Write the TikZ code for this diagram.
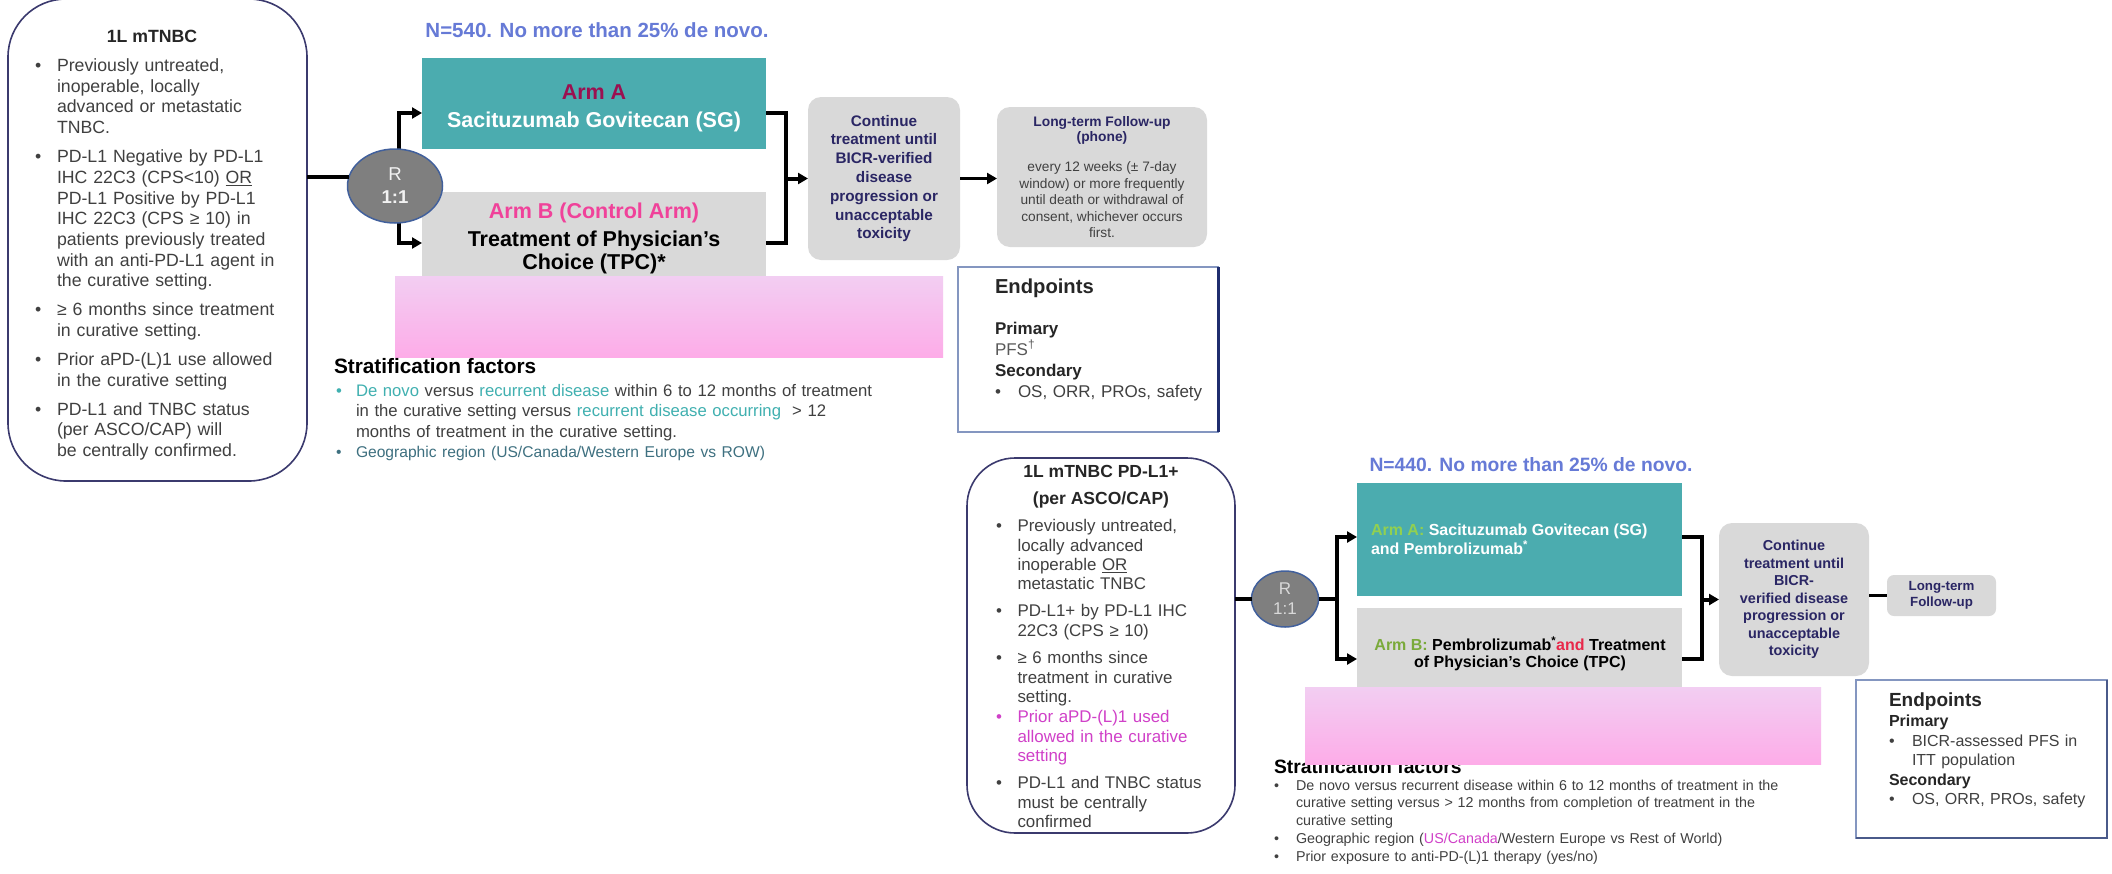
\documentclass[tikz,border=0pt]{standalone}
\usepackage{fontspec}
\setmainfont{Liberation Sans}
\usetikzlibrary{arrows.meta,shapes.geometric}

\definecolor{critline}{RGB}{59,58,110}
\definecolor{txtgray}{RGB}{64,64,64}
\definecolor{armteal}{RGB}{75,172,175}
\definecolor{boxgray}{RGB}{217,217,217}
\definecolor{navytxt}{RGB}{42,38,100}
\definecolor{rfill}{RGB}{127,127,127}
\definecolor{rline}{RGB}{65,96,156}
\definecolor{rtxt}{RGB}{242,242,242}
\definecolor{pinktop}{RGB}{242,206,242}
\definecolor{pinkbot}{RGB}{253,172,232}
\definecolor{nblue}{RGB}{102,122,214}
\definecolor{armAred}{RGB}{155,16,80}
\definecolor{armBpink}{RGB}{240,66,154}
\definecolor{stteal}{RGB}{64,176,176}
\definecolor{geoteal}{RGB}{62,112,128}
\definecolor{epline}{RGB}{132,150,192}
\definecolor{epnavy}{RGB}{31,45,110}
\definecolor{epdark}{RGB}{74,90,138}
\definecolor{limegreen}{RGB}{146,208,80}
\definecolor{olivegreen}{RGB}{122,170,58}
\definecolor{andred}{RGB}{232,40,74}
\definecolor{magtxt}{RGB}{208,64,200}
\definecolor{pfsgray}{RGB}{89,89,89}

\newcommand{\setfs}[2]{\fontsize{#1}{#2}\selectfont}
% bullet line with hanging indent: [bullet colour]{indent}{text}
\newcommand{\bul}[3][.]{\hangindent=#2\hangafter=1\noindent\makebox[#2][l]{\textcolor{#1}{\textbullet}}#3\par}
\newcommand{\bgap}[1]{\par\vspace{#1}}

\begin{document}
\begin{tikzpicture}[x=1pt,y=1pt,yscale=-1,xscale=1,
	tri/.tip={Triangle[length=10pt,width=11pt]},
	every node/.style={inner sep=0pt,outer sep=0pt},
	critbox/.style={draw=critline,line width=1.6pt,fill=white},
	txtblock/.style={anchor=base west,align=left,text=txtgray},
	tealbox/.style={fill=armteal},
	greybox/.style={fill=boxgray},
	contbox/.style={fill=boxgray,rounded corners=13pt,align=center,text=navytxt,font=\bfseries\setfs{15.3}{18.8}},
	rnode/.style={ellipse,fill=rfill,draw=rline,line width=1.5pt,align=center,text=rtxt},
	pinkbar/.style={top color=pinktop,bottom color=pinkbot},
	link/.style={line width=4pt},
	flow/.style={line width=4pt,-tri},
	biflow/.style={line width=4pt,tri-tri},
	nhead/.style={anchor=base,text=nblue,font=\bfseries\setfs{20.5}{24}},
	epbox/.style={draw=epline,line width=1.3pt,fill=white},
	strat/.style={anchor=base west,text=black,font=\bfseries\setfs{20.8}{24}}
	]
	\useasboundingbox[fill=white] (0,0) rectangle (2112,873);
	
	%%%%% upper trial
	% eligibility box
	\node[critbox,rounded corners=58pt,minimum width=299pt,minimum height=482pt] (incA) at (157.5,240) {};
	\node[anchor=base,text=black!85,font=\bfseries\setfs{17.7}{21}] (incAttl) at (152,42.4) {1L mTNBC};
	\node[txtblock,text width=272pt,font=\setfs{17.7}{20.7}] (incAtxt) at (35,71.5) {%
		\bul{22pt}{Previously untreated,\newline inoperable, locally\newline advanced or metastatic\newline TNBC.}%
		\bgap{8.3pt}\bul{22pt}{PD-L1 Negative by PD-L1\newline IHC 22C3 (CPS<10) \underline{OR}\newline PD-L1 Positive by PD-L1\newline IHC 22C3 (CPS ≥ 10) in\newline patients previously treated\newline with an anti-PD-L1 agent in\newline the curative setting.}%
		\bgap{8.3pt}\bul{22pt}{≥ 6 months since treatment\newline in curative setting.}%
		\bgap{8.3pt}\bul{22pt}{Prior aPD-(L)1 use allowed\newline in the curative setting}%
		\bgap{8.3pt}\bul{22pt}{PD-L1 and TNBC status\newline (per ASCO/CAP) will\newline be centrally confirmed.}};
	
	% title
	\node[nhead] (nA) at (597,37.4) {N=540. No more than 25\% de novo.};
	
	% arms
	\node[tealbox,minimum width=344pt,minimum height=91pt] (armA) at (594,103.5) {};
	\node[anchor=base,align=center,font=\bfseries\setfs{21.5}{27.5}] (armAtxt) at (594,127.2) {\textcolor{armAred}{Arm A}\\\textcolor{white}{Sacituzumab Govitecan (SG)}};
	\node[greybox,minimum width=344pt,minimum height=108pt] (armB) at (594,246) {};
	\node[anchor=base,align=center,font=\bfseries\setfs{21.5}{23}] (armBtxt) at (594,269) {\textcolor{armBpink}{Arm B (Control Arm)}\\[5pt]Treatment of Physician’s\\Choice (TPC)*};
	\node[pinkbar,minimum width=548pt,minimum height=81pt] (pinkA) at (669,316.5) {};
	
	% randomisation
	\coordinate (splA) at (399,113);
	\coordinate (splB) at (399,243);
	\draw[biflow] (splA -| armA.west) -- (splA) -- (splB) -- (splB -| armB.west);
	\node[rnode,minimum width=95pt,minimum height=74pt,font=\setfs{18.6}{23}] (rA) at (395,186) {R\\\textbf{1:1}};
	\draw[link] (incA.east |- rA.169) -- (rA.169);
	
	% merge and follow-up
	\coordinate (mrgA) at (786,113);
	\coordinate (mrgB) at (786,243);
	\draw[link] (mrgA -| armA.east) -- (mrgA) -- (mrgB) -- (mrgB -| armB.east);
	\node[contbox,minimum width=152pt,minimum height=163pt] (contA) at (884,178.5) {Continue\\treatment until\\BICR-verified\\disease\\progression or\\unacceptable\\toxicity};
	\draw[flow] (mrgA |- contA.west) -- (contA.west);
	\node[greybox,rounded corners=13pt,minimum width=210pt,minimum height=140pt] (longA) at (1102,177) {};
	\node[anchor=base,align=center,text=navytxt,font=\bfseries\setfs{13.8}{15}] (longAttl) at (1102,141.6) {Long-term Follow-up\\(phone)};
	\node[anchor=base,align=center,text=txtgray,font=\setfs{13.7}{16.5}] (longAtxt) at (1102,237.5) {every 12 weeks (± 7-day\\window) or more frequently\\until death or withdrawal of\\consent, whichever occurs\\first.};
	\draw[flow,line width=3pt] (contA.east) -- (contA.east -| longA.west);
	
	% endpoints
	\node[epbox,minimum width=260pt,minimum height=165pt] (epA) at (1088,349.5) {};
	\draw[line width=3pt,epnavy] (epA.north east) -- (epA.south east);
	\node[anchor=base west,text=black!85,font=\bfseries\setfs{20.2}{24}] (epAttl) at (995,293.3) {Endpoints};
	\node[txtblock,text width=215pt,font=\setfs{17}{21}] (epAtxt) at (995,334) {\textbf{\textcolor{black!85}{Primary}}\newline \textcolor{pfsgray}{PFS\textsuperscript{†}}\newline \textbf{\textcolor{black!85}{Secondary}}\bgap{0pt}\bul{23pt}{OS, ORR, PROs, safety}};
	
	% stratification
	\node[strat] (strA) at (334,373.5) {Stratification factors};
	\node[txtblock,text width=600pt,font=\setfs{16.7}{20.5}] (strAtxt) at (336,396.2) {\bul[stteal]{20pt}{\textcolor{stteal}{De novo} versus \textcolor{stteal}{recurrent disease} within 6 to 12 months of treatment\newline in the curative setting versus \textcolor{stteal}{recurrent disease occurring}\ \ > 12\newline months of treatment in the curative setting.}\setfs{15.6}{20.5}\bul[geoteal]{20pt}{\textcolor{geoteal}{Geographic region (US/Canada/Western Europe vs ROW)}}};
	
	%%%%% lower trial
	% eligibility box
	\node[critbox,rounded corners=48pt,minimum width=268pt,minimum height=375pt] (incB) at (1101,645.5) {};
	\node[anchor=base,align=center,text=black!85,font=\bfseries\setfs{17.5}{27}] (incBttl) at (1101,504.3) {1L mTNBC PD-L1+\\(per ASCO/CAP)};
	\node[txtblock,text width=225pt,font=\setfs{16.9}{19.4}] (incBtxt) at (996,531.6) {%
		\bul{21.5pt}{Previously untreated,\newline locally advanced\newline inoperable \underline{OR}\newline metastatic TNBC}%
		\bgap{7.4pt}\bul{21.5pt}{PD-L1+ by PD-L1 IHC\newline 22C3 (CPS ≥ 10)}%
		\bgap{8.2pt}\bul{21.5pt}{≥ 6 months since\newline treatment in curative\newline setting.}%
		\bgap{0.8pt}\bul[magtxt]{21.5pt}{\textcolor{magtxt}{Prior aPD-(L)1 used\newline allowed in the curative\newline setting}}%
		\bgap{7.8pt}\bul{21.5pt}{PD-L1 and TNBC status\newline must be centrally\newline confirmed}};
	
	% title
	\node[nhead,font=\bfseries\setfs{19.3}{23}] (nB) at (1531,471.9) {N=440. No more than 25\% de novo.};
	
	% arms
	\node[tealbox,minimum width=325pt,minimum height=113pt] (armA2) at (1519.5,539.5) {};
	\node[anchor=base west,align=left,text=white,font=\bfseries\setfs{16}{19.3}] (armA2txt) at (1371,554.3) {\textcolor{limegreen}{Arm A:} Sacituzumab Govitecan (SG)\\and Pembrolizumab\textsuperscript{*}};
	\node[greybox,minimum width=325pt,minimum height=92pt] (armB2) at (1519.5,654) {};
	\node[anchor=base,align=center,font=\bfseries\setfs{16}{16.7}] (armB2txt) at (1520,667.6) {\textcolor{olivegreen}{Arm B:} Pembrolizumab\textsuperscript{*}\textcolor{andred}{and} Treatment\\of Physician’s Choice (TPC)};
	
	% randomisation
	\coordinate (splA2) at (1337,537);
	\coordinate (splB2) at (1337,659);
	\draw[biflow] (splA2 -| armA2.west) -- (splA2) -- (splB2) -- (splB2 -| armB2.west);
	\node[rnode,minimum width=67pt,minimum height=56pt,font=\setfs{17}{20},text=boxgray] (rB) at (1285,599) {R\\1:1};
	\draw[link] (incB.east |- rB.west) -- (rB.west);
	\draw[link] (rB.east) -- (rB.east -| splA2);
	
	% merge and follow-up
	\coordinate (mrgA2) at (1702,537);
	\coordinate (mrgB2) at (1702,659);
	\draw[link] (mrgA2 -| armA2.east) -- (mrgA2) -- (mrgB2) -- (mrgB2 -| armB2.east);
	\node[contbox,font=\bfseries\setfs{14.4}{17.5},minimum width=150pt,minimum height=153pt] (contB) at (1794,599.5) {Continue\\treatment until\\BICR-\\verified disease\\progression or\\unacceptable\\toxicity};
	\draw[flow] (mrgA2 |- contB.west) -- (contB.west);
	\node[greybox,rounded corners=7pt,minimum width=109pt,minimum height=41pt,align=center,text=navytxt,font=\bfseries\setfs{13.3}{16}] (longB) at (1941.5,595.5) {Long-term\\Follow-up};
	\draw[link,line width=3.3pt] (contB.east |- longB.west) -- (longB.west);
	
	% endpoints
	\node[epbox,minimum width=251pt,minimum height=158pt] (epB) at (1981.5,759) {};
	\draw[line width=2.5pt,epdark] (epB.south west) -- (epB.south east) -- (epB.north east);
	\node[anchor=base west,text=black!85,font=\bfseries\setfs{19}{23}] (epBttl) at (1889,706.5) {Endpoints};
	\node[txtblock,text width=210pt,font=\setfs{16}{19.5}] (epBtxt) at (1889,726.8) {\textbf{\textcolor{black!85}{Primary}}\bgap{0pt}\bul{23pt}{BICR-assessed PFS in\newline ITT population}\textbf{\textcolor{black!85}{Secondary}}\bgap{0pt}\bul{23pt}{OS, ORR, PROs, safety}};
	
	% stratification (partly under the pink bar)
	\node[strat,font=\bfseries\setfs{19.3}{23}] (strB) at (1274,773) {Stratification factors};
	\node[txtblock,text width=580pt,font=\setfs{14.3}{17.8}] (strBtxt) at (1274,790) {\bul{22pt}{De novo versus recurrent disease within 6 to 12 months of treatment in the\newline curative setting versus > 12 months from completion of treatment in the\newline curative setting}\bul{22pt}{Geographic region (\textcolor{magtxt}{US/Canada}/Western Europe vs Rest of World)}\bul{22pt}{Prior exposure to anti-PD-(L)1 therapy (yes/no)}};
	\node[pinkbar,minimum width=516pt,minimum height=77pt] (pinkB) at (1563,725.5) {};
	
\end{tikzpicture}
\end{document}
